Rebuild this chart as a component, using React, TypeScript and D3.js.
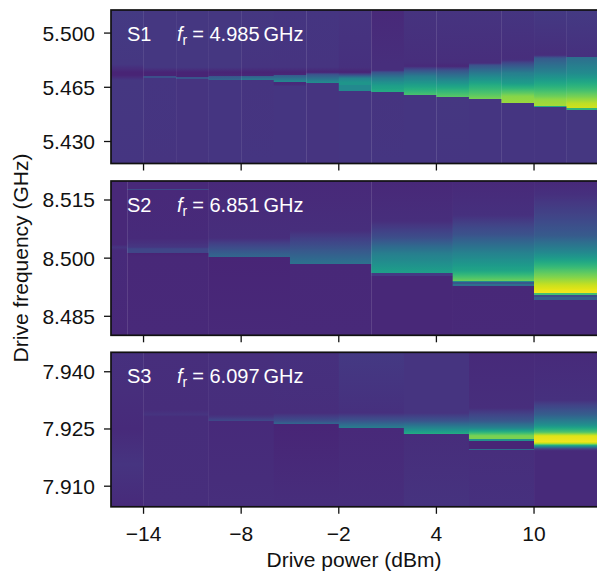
import * as d3 from "d3";

type Stop = [number, number];

// Drive power axis
const powerDomain = [-16, 13.87];
const powerTicks = [-14, -8, -2, 4, 10];

// Panel labels
const sampleNames = ["S1", "S2", "S3"];
const readoutFreqs = ["4.985", "6.851", "6.097"];

// Frequency axis of each panel (GHz)
const s1Domain = [5.5149, 5.4158];
const s2Domain = [8.5199, 8.4801];
const s3Domain = [7.9451, 7.9046];
const s1Ticks = [5.5, 5.465, 5.43];
const s2Ticks = [8.515, 8.5, 8.485];
const s3Ticks = [7.94, 7.925, 7.91];

// Column boundaries (dBm)
const s1Edges = [-16, -14, -12, -10, -8, -6, -4, -2, 0, 2, 4, 6, 8, 10, 12, 13.87];
const s2Edges = [-16, -15, -10, -5, 0, 5, 10, 13.87];
const s3Edges = [-16, -14, -10, -6, -2, 2, 6, 10, 13.87];

// Each column: [frequency, normalised amplitude], read top to bottom
const s1Columns: Stop[][] = [
  [[5.5149, 0.17], [5.48, 0.16], [5.4747, 0.1], [5.4728, 0.1], [5.4695, 0.16], [5.4158, 0.155]],
  [[5.5149, 0.16], [5.478, 0.16], [5.4747, 0.1], [5.4722, 0.1], [5.4721, 0.24], [5.4708, 0.24], [5.4708, 0.155], [5.4158, 0.15]],
  [[5.5149, 0.16], [5.478, 0.16], [5.4747, 0.1], [5.4716, 0.1], [5.4715, 0.26], [5.4702, 0.26], [5.4702, 0.15], [5.4158, 0.15]],
  [[5.5149, 0.16], [5.478, 0.16], [5.4747, 0.1], [5.4722, 0.11], [5.4721, 0.26], [5.4695, 0.33], [5.4695, 0.155], [5.4158, 0.155]],
  [[5.5149, 0.16], [5.478, 0.15], [5.4747, 0.1], [5.4722, 0.11], [5.4721, 0.3], [5.4695, 0.42], [5.4695, 0.15], [5.4158, 0.155]],
  [[5.5149, 0.155], [5.478, 0.15], [5.4747, 0.1], [5.4728, 0.11], [5.4728, 0.28], [5.4686, 0.46], [5.4686, 0.12], [5.467, 0.12], [5.4655, 0.155], [5.4158, 0.155]],
  [[5.5149, 0.155], [5.478, 0.15], [5.4747, 0.1], [5.4734, 0.25], [5.4676, 0.5], [5.4676, 0.15], [5.4158, 0.15]],
  [[5.5149, 0.15], [5.478, 0.14], [5.4747, 0.1], [5.4734, 0.2], [5.4708, 0.45], [5.4682, 0.52], [5.4663, 0.52], [5.4663, 0.47], [5.4624, 0.47], [5.4624, 0.155], [5.4158, 0.155]],
  [[5.5149, 0.115], [5.48, 0.13], [5.476, 0.13], [5.4747, 0.25], [5.4708, 0.42], [5.4663, 0.55], [5.4618, 0.62], [5.4618, 0.15], [5.4158, 0.155]],
  [[5.5149, 0.145], [5.4812, 0.13], [5.4786, 0.12], [5.476, 0.25], [5.4721, 0.42], [5.4657, 0.58], [5.4598, 0.72], [5.4598, 0.155], [5.4158, 0.155]],
  [[5.5149, 0.15], [5.4812, 0.13], [5.4786, 0.11], [5.476, 0.25], [5.4695, 0.47], [5.4631, 0.65], [5.4585, 0.75], [5.4585, 0.16], [5.4158, 0.155]],
  [[5.5149, 0.15], [5.4825, 0.13], [5.4806, 0.13], [5.4793, 0.25], [5.4728, 0.45], [5.4663, 0.62], [5.4572, 0.8], [5.4572, 0.155], [5.4158, 0.155]],
  [[5.5149, 0.155], [5.4838, 0.13], [5.4825, 0.14], [5.4806, 0.22], [5.4741, 0.43], [5.4676, 0.55], [5.4592, 0.82], [5.4546, 0.85], [5.4546, 0.155], [5.4158, 0.155]],
  [[5.5149, 0.165], [5.4857, 0.13], [5.4838, 0.28], [5.476, 0.42], [5.4663, 0.62], [5.4566, 0.84], [5.4527, 0.87], [5.4527, 0.6], [5.452, 0.6], [5.452, 0.155], [5.4158, 0.155]],
  [[5.5149, 0.17], [5.4851, 0.14], [5.4844, 0.14], [5.4844, 0.36], [5.4741, 0.48], [5.4631, 0.7], [5.4546, 0.9], [5.4514, 0.93], [5.4514, 0.65], [5.4501, 0.65], [5.4501, 0.16], [5.4158, 0.16]],
];

const s2Columns: Stop[][] = [
  [[8.5199, 0.11], [8.5035, 0.11], [8.5028, 0.15], [8.502, 0.12], [8.4801, 0.11]],
  [[8.5199, 0.115], [8.5178, 0.115], [8.5178, 0.22], [8.5176, 0.22], [8.5176, 0.115], [8.505, 0.12], [8.5028, 0.16], [8.5024, 0.21], [8.5013, 0.21], [8.5013, 0.1], [8.5003, 0.11], [8.4801, 0.115]],
  [[8.5199, 0.115], [8.5052, 0.13], [8.5003, 0.33], [8.5003, 0.105], [8.4801, 0.115]],
  [[8.5199, 0.115], [8.5072, 0.13], [8.5031, 0.24], [8.4984, 0.38], [8.4984, 0.11], [8.4801, 0.115]],
  [[8.5199, 0.11], [8.5096, 0.13], [8.5052, 0.24], [8.5013, 0.42], [8.4961, 0.57], [8.4961, 0.17], [8.4953, 0.17], [8.4953, 0.11], [8.4801, 0.11]],
  [[8.5199, 0.115], [8.5111, 0.14], [8.5059, 0.26], [8.5013, 0.44], [8.4969, 0.58], [8.4941, 0.78], [8.4941, 0.48], [8.4938, 0.48], [8.4938, 0.27], [8.4934, 0.27], [8.4934, 0.36], [8.4928, 0.36], [8.4928, 0.11], [8.4801, 0.115]],
  [[8.5199, 0.115], [8.5163, 0.14], [8.5111, 0.2], [8.5059, 0.28], [8.5008, 0.5], [8.4969, 0.72], [8.493, 0.92], [8.4912, 0.98], [8.4909, 0.98], [8.4909, 0.7], [8.4904, 0.7], [8.4904, 0.22], [8.4899, 0.22], [8.4899, 0.3], [8.4891, 0.3], [8.4891, 0.115], [8.4801, 0.115]],
];

const s3Columns: Stop[][] = [
  [[7.9451, 0.14], [7.935, 0.13], [7.925, 0.12], [7.9158, 0.15], [7.905, 0.12], [7.9046, 0.13]],
  [[7.9451, 0.13], [7.93, 0.125], [7.9288, 0.15], [7.9282, 0.125], [7.9046, 0.13]],
  [[7.9451, 0.135], [7.9288, 0.13], [7.9281, 0.16], [7.9271, 0.22], [7.9271, 0.12], [7.912, 0.125], [7.9046, 0.13]],
  [[7.9451, 0.14], [7.9292, 0.13], [7.9271, 0.24], [7.9263, 0.33], [7.9263, 0.105], [7.9046, 0.13]],
  [[7.9451, 0.165], [7.9292, 0.14], [7.9271, 0.26], [7.9253, 0.42], [7.9253, 0.115], [7.9046, 0.13]],
  [[7.9451, 0.15], [7.9292, 0.15], [7.9271, 0.26], [7.9253, 0.45], [7.9237, 0.62], [7.9237, 0.125], [7.9046, 0.145]],
  [[7.9451, 0.12], [7.9305, 0.13], [7.9271, 0.27], [7.9253, 0.45], [7.9237, 0.72], [7.9232, 0.8], [7.9224, 0.8], [7.9224, 0.5], [7.9219, 0.5], [7.9219, 0.105], [7.9198, 0.105], [7.9198, 0.35], [7.9195, 0.35], [7.9195, 0.13], [7.9046, 0.14]],
  [[7.9451, 0.12], [7.9326, 0.14], [7.9287, 0.3], [7.926, 0.5], [7.9242, 0.72], [7.9232, 0.95], [7.9216, 0.98], [7.9211, 0.85], [7.9206, 0.55], [7.9198, 0.2], [7.9193, 0.12], [7.9046, 0.12]],
];

const WIDTH = 597;
const HEIGHT = 571;
const FONT = "'Liberation Sans', Arial, sans-serif";
const FONT_SIZE = 21;
const left = 111;
const clipRight = 597;

const xScale = d3.scaleLinear().domain(powerDomain).range([left, clipRight]);

const panels = [
  { id: "s1", domain: s1Domain, ticks: s1Ticks, edges: s1Edges, columns: s1Columns, top: 10, bottom: 163.5 },
  { id: "s2", domain: s2Domain, ticks: s2Ticks, edges: s2Edges, columns: s2Columns, top: 181, bottom: 335.3 },
  { id: "s3", domain: s3Domain, ticks: s3Ticks, edges: s3Edges, columns: s3Columns, top: 352.3, bottom: 506.8 },
];

// Subdivide each profile segment so the gradient follows viridis, not a straight RGB blend
function gradientStops(col: Stop[], y: d3.ScaleLinear<number, number>, top: number, bottom: number) {
  const out: { offset: number; color: string }[] = [];
  col.forEach((s, i) => {
    if (i === 0) return;
    const prev = col[i - 1];
    const n = Math.abs(s[1] - prev[1]) > 0.04 && s[0] !== prev[0] ? 8 : 1;
    d3.range(n + 1).forEach((k) => {
      const t = k / n;
      const f = prev[0] + (s[0] - prev[0]) * t;
      const v = prev[1] + (s[1] - prev[1]) * t;
      out.push({ offset: (y(f) - top) / (bottom - top), color: d3.interpolateViridis(v) });
    });
  });
  return out;
}

export default function App() {
  return (
    <svg
      width={WIDTH}
      height={HEIGHT}
      style={{ position: "absolute", left: 0, top: 0, background: "#fff" }}
      fontFamily={FONT}
      fontSize={FONT_SIZE}
    >
      {panels.map((p, pi) => {
        const y = d3.scaleLinear().domain(p.domain).range([p.top, p.bottom]);
        return (
          <g key={p.id}>
            <defs>
              {p.columns.map((col, i) => (
                <linearGradient
                  key={i}
                  id={`${p.id}-col-${i}`}
                  gradientUnits="userSpaceOnUse"
                  x1={0}
                  x2={0}
                  y1={p.top}
                  y2={p.bottom}
                >
                  {gradientStops(col, y, p.top, p.bottom).map((s, k) => (
                    <stop key={k} offset={s.offset} stopColor={s.color} />
                  ))}
                </linearGradient>
              ))}
            </defs>

            {/* heatmap columns */}
            {p.columns.map((_, i) => (
              <rect
                key={i}
                x={xScale(p.edges[i])}
                y={p.top}
                width={xScale(p.edges[i + 1]) - xScale(p.edges[i]) + 0.3}
                height={p.bottom - p.top}
                fill={`url(#${p.id}-col-${i})`}
              />
            ))}

            {/* frame, right side runs off the page */}
            <rect
              x={left}
              y={p.top}
              width={clipRight - left + 10}
              height={p.bottom - p.top}
              fill="none"
              stroke="#111"
              strokeWidth={1.7}
            />

            {/* y ticks */}
            {p.ticks.map((t) => (
              <g key={t}>
                <line x1={left - 7} x2={left} y1={y(t)} y2={y(t)} stroke="#111" strokeWidth={1.3} />
                <text x={left - 16} y={y(t) + 7.5} textAnchor="end" fill="#111">
                  {d3.format(".3f")(t)}
                </text>
              </g>
            ))}

            {/* x ticks */}
            {powerTicks.map((t) => (
              <g key={t}>
                <line x1={xScale(t)} x2={xScale(t)} y1={p.bottom} y2={p.bottom + 7} stroke="#111" strokeWidth={1.3} />
                {pi === 2 && (
                  <text x={xScale(t)} y={p.bottom + 34} textAnchor="middle" fill="#111">
                    {t < 0 ? `\u2212${-t}` : t}
                  </text>
                )}
              </g>
            ))}

            {/* panel label */}
            <text x={127} y={p.top + 31} fill="#fff" fontSize={20}>
              {sampleNames[pi]}
            </text>
            <text x={177} y={p.top + 31} fill="#fff" fontSize={20}>
              <tspan fontStyle="italic">f</tspan>
              <tspan fontSize={14} dy={4}>r</tspan>
              <tspan dy={-4} dx={5}>= {readoutFreqs[pi]}</tspan>
              <tspan dx={4}>GHz</tspan>
            </text>
          </g>
        );
      })}

      <text x={354} y={567} textAnchor="middle" fill="#111">
        Drive power (dBm)
      </text>
      <text transform="translate(28, 258) rotate(-90)" textAnchor="middle" fill="#111">
        Drive frequency (GHz)
      </text>
    </svg>
  );
}
